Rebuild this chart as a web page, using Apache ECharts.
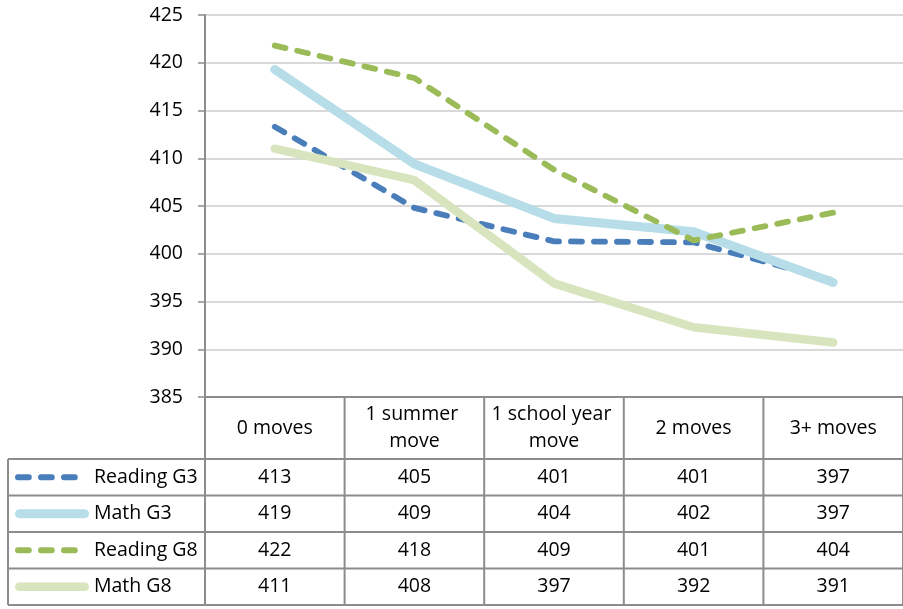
<!DOCTYPE html>
<html>
<head>
<meta charset="utf-8">
<script src="https://cdn.jsdelivr.net/npm/echarts@6/dist/echarts.min.js"></script>
<style>
html,body{margin:0;padding:0;background:#fff;}
#chart{width:903px;height:609px;}
</style>
</head>
<body>
<div id="chart"></div>
<script>
// ---- data ----
const categories = ['0 moves', '1 summer move', '1 school year move', '2 moves', '3+ moves'];
const seriesNames = ['Reading G3', 'Math G3', 'Reading G8', 'Math G8'];
const readingG3 = [413.3, 404.8, 401.3, 401.2, 397.2];
const mathG3    = [419.3, 409.4, 403.7, 402.3, 397.0];
const readingG8 = [421.8, 418.4, 408.8, 401.4, 404.3];
const mathG8    = [411.0, 407.7, 396.9, 392.3, 390.7];
const yMin = 385, yMax = 425, yStep = 5;

// ---- styles ----
const seriesData = [readingG3, mathG3, readingG8, mathG8];
const styles = [
  {color: '#4A7EBB', width: 5.8, dash: [11, 12]},
  {color: '#B7DEE8', width: 9,   dash: null},
  {color: '#9BBB59', width: 5.8, dash: [11, 12]},
  {color: '#D7E4BD', width: 8.5, dash: null}
];
const FONT = 'Open Sans';
const FS = 19.5;
const LINE_GRAY = '#8C8C8C';

const chart = echarts.init(document.getElementById('chart'));

const option = {
  animation: false,
  backgroundColor: '#fff',
  grid: {left: 205, right: -10, top: 15, bottom: 212, containLabel: false},
  xAxis: {
    type: 'category',
    data: categories,
    boundaryGap: true,
    axisLine: {show: true, lineStyle: {color: LINE_GRAY, width: 2}},
    axisTick: {show: false},
    splitLine: {show: false},
    axisLabel: {
      interval: 0, margin: 31, verticalAlign: 'middle',
      width: 134, overflow: 'break', lineHeight: 27,
      fontFamily: FONT, fontSize: FS, color: '#000'
    }
  },
  yAxis: {
    type: 'value',
    min: yMin, max: yMax, interval: yStep,
    axisLine: {show: true, lineStyle: {color: LINE_GRAY, width: 2}},
    axisTick: {show: true, length: 7, lineStyle: {color: LINE_GRAY, width: 1.5}},
    splitLine: {show: true, lineStyle: {color: '#D9D9D9', width: 2}},
    axisLabel: {margin: 22, fontFamily: FONT, fontSize: FS, color: '#000'}
  },
  series: seriesNames.map((name, i) => ({
    name: name,
    type: 'line',
    data: seriesData[i],
    symbol: 'none',
    smooth: false,
    lineStyle: {
      color: styles[i].color,
      width: styles[i].width,
      type: styles[i].dash ? styles[i].dash : 'solid',
      cap: 'round',
      join: 'round'
    },
    z: 2 + i
  }))
};
chart.setOption(option);

// ---- data table built from the arrays ----
const tableTop = 397;      // header row top (x axis)
const headerBottom = 459;
const rowH = 36.5;
const tableLeft = 8;
const legendX1 = 15, textX = 94;

const centers = categories.map((c, i) => chart.convertToPixel({xAxisIndex: 0}, i));
const band = centers[1] - centers[0];
const bounds = [];
for (let i = 0; i <= categories.length; i++) bounds.push(centers[0] - band / 2 + i * band);
const rightEdge = bounds[bounds.length - 1];
const tableBottom = headerBottom + rowH * seriesNames.length;

const graphics = [];
const lineEl = (x1, y1, x2, y2) => ({
  type: 'line', z: 10, silent: true,
  shape: {x1, y1, x2, y2},
  style: {stroke: LINE_GRAY, lineWidth: 2}
});

// vertical lines
bounds.forEach(x => graphics.push(lineEl(x, tableTop, x, tableBottom)));
graphics.push(lineEl(tableLeft, headerBottom, tableLeft, tableBottom));
// horizontal lines
for (let r = 0; r <= seriesNames.length; r++) {
  const y = headerBottom + r * rowH;
  graphics.push(lineEl(tableLeft, y, rightEdge, y));
}

seriesNames.forEach((name, r) => {
  const cy = headerBottom + r * rowH + rowH / 2;
  const st = styles[r];
  const half = st.width / 2;
  const x2 = st.dash ? legendX1 + half + st.dash[0] * 3 + st.dash[1] * 2 : 89 - half;
  graphics.push({
    type: 'line', z: 11, silent: true,
    shape: {x1: legendX1 + half, y1: cy, x2: x2, y2: cy},
    style: {stroke: st.color, lineWidth: st.width, lineCap: 'round', lineDash: st.dash || null}
  });
  graphics.push({
    type: 'text', z: 11, silent: true,
    style: {x: textX, y: cy, text: name, fontFamily: FONT, fontSize: FS, fill: '#000',
            textAlign: 'left', textVerticalAlign: 'middle', verticalAlign: 'middle'}
  });
  seriesData[r].forEach((v, c) => {
    graphics.push({
      type: 'text', z: 11, silent: true,
      style: {x: centers[c], y: cy, text: String(Math.round(v)), fontFamily: FONT, fontSize: FS,
              fill: '#000', textAlign: 'center', align: 'center', textVerticalAlign: 'middle', verticalAlign: 'middle'}
    });
  });
});

chart.setOption({graphic: graphics});
</script>
</body>
</html>
